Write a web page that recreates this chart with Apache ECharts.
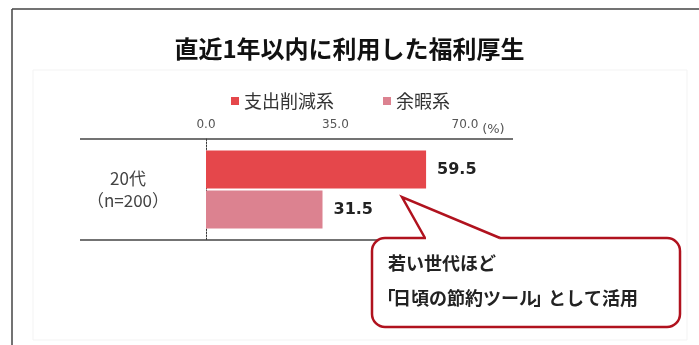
<!DOCTYPE html>
<html>
<head>
<meta charset="utf-8">
<script src="https://cdn.jsdelivr.net/npm/echarts@6/dist/echarts.min.js"></script>
<style>
html,body{margin:0;padding:0;background:#fff;}
#c{width:699px;height:345px;}
</style>
</head>
<body>
<div id="c"></div>
<script>
const titleText = '直近1年以内に利用した福利厚生';
const categories = ['20代\n（n=200）'];
const seriesNames = ['支出削減系', '余暇系'];
const spendCut = [59.5];
const leisure = [31.5];
const tickValues = [0, 35, 70];
const unitLabel = '(%)';
const calloutLine1 = '若い世代ほど';
const calloutLine2 = ['「', '日頃の節約ツール', '」', 'として活用'];

const JP = '"Noto Sans CJK JP", "Noto Sans", sans-serif';
const NUM = '"DejaVu Sans", sans-serif';
const RED = '#e5474b';
const PINK = '#dc8290';
const CALLOUT = '#b0121e';

const chart = echarts.init(document.getElementById('c'), null, {renderer: 'canvas'});

chart.setOption({
  animation: false,
  backgroundColor: '#fff',
  title: {
    text: titleText,
    left: 'center',
    top: 32,
    textStyle: {fontFamily: JP, fontSize: 24, fontWeight: 'bold', color: '#111'}
  },
  legend: {
    data: seriesNames,
    left: 226,
    top: 87,
    icon: 'rect',
    itemWidth: 8,
    itemHeight: 8,
    itemGap: 49,
    textStyle: {fontFamily: JP, fontSize: 18, color: '#333'}
  },
  grid: {left: 206, right: 186, top: 139, bottom: 105},
  xAxis: {
    type: 'value',
    position: 'top',
    min: 0,
    max: 83,
    interval: 35,
    name: unitLabel,
    nameLocation: 'end',
    nameGap: -32,
    nameTextStyle: {fontFamily: NUM, fontSize: 13, color: '#555', verticalAlign: 'bottom', padding: [0, 0, 3, 0]},
    axisLine: {show: false},
    axisTick: {show: false},
    splitLine: {show: false},
    axisLabel: {
      margin: 8,
      showMaxLabel: false,
      fontFamily: NUM,
      fontSize: 12,
      color: '#555',
      formatter: v => tickValues.indexOf(v) >= 0 ? v.toFixed(1) : ''
    }
  },
  yAxis: {
    type: 'category',
    inverse: true,
    data: categories,
    offset: 19,
    axisLine: {show: true, lineStyle: {color: '#333', type: [1.5, 1.5], width: 1}},
    axisTick: {show: false},
    axisLabel: {
      margin: 59,
      align: 'center',
      fontFamily: JP,
      fontSize: 17,
      lineHeight: 22,
      color: '#444'
    }
  },
  series: [
    {
      name: seriesNames[0],
      type: 'bar',
      data: spendCut,
      barWidth: 38,
      barGap: '5%',
      itemStyle: {color: RED},
      label: {show: true, position: 'right', distance: 11, fontFamily: NUM, fontSize: 16, fontWeight: 'bold', color: '#222', formatter: p => p.value.toFixed(1)}
    },
    {
      name: seriesNames[1],
      type: 'bar',
      data: leisure,
      barWidth: 38,
      barGap: '5%',
      itemStyle: {color: PINK},
      label: {show: true, position: 'right', distance: 11, fontFamily: NUM, fontSize: 16, fontWeight: 'bold', color: '#222', formatter: p => p.value.toFixed(1)}
    }
  ],
  graphic: [
    {type: 'rect', silent: true, z: -10, shape: {x: 33, y: 70, width: 654, height: 270}, style: {fill: 'none', stroke: '#f3f3f3', lineWidth: 1}},
    {type: 'line', silent: true, shape: {x1: 12, y1: 9, x2: 699, y2: 9}, style: {stroke: '#444', lineWidth: 1.5}},
    {type: 'line', silent: true, shape: {x1: 12, y1: 9, x2: 12, y2: 345}, style: {stroke: '#444', lineWidth: 1.5}},
    {type: 'line', silent: true, z: 1, shape: {x1: 80, y1: 139, x2: 513, y2: 139}, style: {stroke: '#444', lineWidth: 1.5}},
    {type: 'line', silent: true, z: 1, shape: {x1: 80, y1: 240, x2: 513, y2: 240}, style: {stroke: '#444', lineWidth: 1.5}},
    {type: 'rect', silent: true, z: 100, shape: {x: 372, y: 238, width: 308, height: 89, r: 13}, style: {fill: '#fff', stroke: CALLOUT, lineWidth: 2.5}},
    {type: 'polygon', silent: true, z: 101, shape: {points: [[426, 241], [426, 238], [402, 197], [500, 238], [499, 241]]}, style: {fill: '#fff', stroke: null}},
    {type: 'polyline', silent: true, z: 102, shape: {points: [[425, 238], [402, 197], [500, 238]]}, style: {stroke: CALLOUT, lineWidth: 2.5, lineJoin: 'miter', fill: null}},
    {type: 'text', silent: true, z: 103, x: 388, y: 263, style: {text: calloutLine1, fontFamily: JP, fontSize: 18, fontWeight: 'bold', fill: '#222', verticalAlign: 'middle'}},
    {type: 'text', silent: true, z: 103, x: 380, y: 298, style: {
      text: '{l|' + calloutLine2[0] + '}' + calloutLine2[1] + '{r|' + calloutLine2[2] + '}' + calloutLine2[3],
      fontFamily: JP, fontSize: 18, fontWeight: 'bold', fill: '#222', verticalAlign: 'middle',
      rich: {
        l: {width: 13, align: 'right', fontFamily: JP, fontSize: 18, fontWeight: 'bold', fill: '#222'},
        r: {width: 11, align: 'left', fontFamily: JP, fontSize: 18, fontWeight: 'bold', fill: '#222'}
      }
    }}
  ]
});
</script>
</body>
</html>
